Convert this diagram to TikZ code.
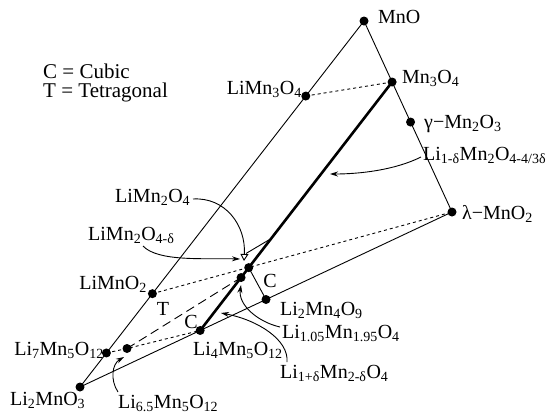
\documentclass[tikz,border=0pt]{standalone}
\usepackage{fontspec}
\setmainfont{Liberation Serif}
\usetikzlibrary{arrows.meta,calc}
\begin{document}
\begin{tikzpicture}[x=1pt,y=-1pt,
  dot/.style={circle,fill=black,inner sep=0pt,minimum size=9pt},
  lbl/.style={inner sep=0pt,font=\rmfamily\fontsize{20}{20}\selectfont},
  tline/.style={line width=0.9pt},
  heavy/.style={line width=2.6pt},
  dots/.style={line width=0.9pt,dash pattern=on 3pt off 3pt},
  ldash/.style={line width=0.9pt,dash pattern=on 9pt off 5pt},
  arr/.style={line width=0.9pt,-{Stealth[length=8pt,width=5pt]}},
  oarr/.style={line width=0.9pt,-{Triangle[open,length=7pt,width=8pt]}},
]
\useasboundingbox (0,0) rectangle (559,418);
% corner and vertex points
\coordinate (MnO) at (364,21);
\coordinate (lMnO2) at (452,212);
\coordinate (Li2MnO3) at (80,387);
\coordinate (Mn3O4) at ($(MnO)!0.3194!(lMnO2)$);
\coordinate (gMn2O3) at ($(MnO)!0.529!(lMnO2)$);
\coordinate (LiMn3O4) at ($(MnO)!0.205!(Li2MnO3)$);
\coordinate (LiMnO2) at ($(MnO)!0.745!(Li2MnO3)$);
\coordinate (Li7) at ($(MnO)!0.907!(Li2MnO3)$);
\coordinate (Li4) at ($(Li2MnO3)!0.323!(lMnO2)$);
\coordinate (Li2Mn4O9) at ($(Li2MnO3)!0.50!(lMnO2)$);
\coordinate (LiMn2O4) at ($(Li4)!0.253!(Mn3O4)$);
\coordinate (Li105) at ($(Li4)!0.213!(Mn3O4)$);
\coordinate (Li65) at (127,348.5);
\coordinate (hk) at ($(Li4)!0.37!(Mn3O4)$);
% lines
\draw[tline] (MnO) -- (lMnO2) -- (Li2MnO3) -- cycle;
\draw[heavy] (Li4) -- (Mn3O4);
\draw[tline] (LiMn2O4) -- (Li2Mn4O9);
\draw[dots] (LiMn3O4) -- (Mn3O4);
\draw[dots] (LiMnO2) -- (lMnO2);
\draw[dots] (Li7) -- (Li65) -- (Li4);
\draw[ldash] (Li65) -- (Li105);
% dots
\foreach \p in {MnO,lMnO2,Li2MnO3,Mn3O4,gMn2O3,LiMn3O4,LiMnO2,Li7,Li4,Li2Mn4O9,LiMn2O4,Li105,Li65}
  \node[dot] (d\p) at (\p) {};
% labels
\node[lbl,anchor=base west] (tMnO) at (378,23) {MnO};
\node[lbl,anchor=base west] (tMn3O4) at (402,83) {Mn\textsubscript{3}O\textsubscript{4}};
\node[lbl,anchor=base west] (tgMn2O3) at (424,128) {γ−Mn\textsubscript{2}O\textsubscript{3}};
\node[lbl,anchor=base west] (tLi1md) at (423,160) {Li\textsubscript{1-δ}Mn\textsubscript{2}O\textsubscript{4-4/3δ}};
\node[lbl,anchor=base west] (tlMnO2) at (462,219) {λ−MnO\textsubscript{2}};
\node[lbl,anchor=base east] (tLiMn3O4) at (302,94) {LiMn\textsubscript{3}O\textsubscript{4}};
\node[lbl,anchor=north west,align=left,font=\rmfamily\fontsize{21}{19}\selectfont] (legend) at (43,64) {C = Cubic\\T = Tetragonal};
\node[lbl,anchor=base west] (tLiMn2O4) at (115,202) {LiMn\textsubscript{2}O\textsubscript{4}};
\node[lbl,anchor=base west] (tLiMn2O4d) at (88,240) {LiMn\textsubscript{2}O\textsubscript{4-δ}};
\node[lbl,anchor=base east] (tLiMnO2) at (147,289) {LiMnO\textsubscript{2}};
\node[lbl,anchor=base] (tT) at (163,315) {T};
\node[lbl,anchor=base] (tC1) at (191,328) {C};
\node[lbl,anchor=base] (tC2) at (270,287) {C};
\node[lbl,anchor=base east] (tLi7) at (104,355) {Li\textsubscript{7}Mn\textsubscript{5}O\textsubscript{12}};
\node[lbl,anchor=base west] (tLi2MnO3) at (10,405) {Li\textsubscript{2}MnO\textsubscript{3}};
\node[lbl,anchor=base west] (tLi65) at (118,408) {Li\textsubscript{6.5}Mn\textsubscript{5}O\textsubscript{12}};
\node[lbl,anchor=base west] (tLi4) at (193,355) {Li\textsubscript{4}Mn\textsubscript{5}O\textsubscript{12}};
\node[lbl,anchor=base west] (tLi2Mn4O9) at (280,315) {Li\textsubscript{2}Mn\textsubscript{4}O\textsubscript{9}};
\node[lbl,anchor=base west] (tLi105) at (282,338) {Li\textsubscript{1.05}Mn\textsubscript{1.95}O\textsubscript{4}};
\node[lbl,anchor=base west] (tLi1pd) at (280,378) {Li\textsubscript{1+δ}Mn\textsubscript{2-δ}O\textsubscript{4}};
% arrows
\coordinate (s1) at (193,199);
\coordinate (e1) at (244,261);
\draw[oarr] (s1) .. controls (225,197) and (246,225) .. (e1);
\coordinate (s1b) at (246,253.5);
\draw[tline] (s1b) -- (hk);
\coordinate (s2) at (143,246);
\coordinate (e2) at (240,259);
\draw[arr] (s2) .. controls (158,262) and (205,258) .. (e2);
\coordinate (s3) at (421,157);
\coordinate (e3) at (330,174);
\draw[arr] (s3) .. controls (395,170) and (360,174) .. (e3);
\coordinate (s4) at (280,327);
\coordinate (e4) at (241,285);
\draw[arr] (s4) .. controls (258,322) and (238,305) .. (e4);
\coordinate (s5) at (287,362);
\coordinate (e5) at (221,313);
\draw[arr] (s5) .. controls (289,340) and (258,320) .. (e5);
\coordinate (s6) at (118,392);
\coordinate (e6) at (124,357);
\draw[arr] (s6) .. controls (110,380) and (112,364) .. (e6);
\end{tikzpicture}
\end{document}
